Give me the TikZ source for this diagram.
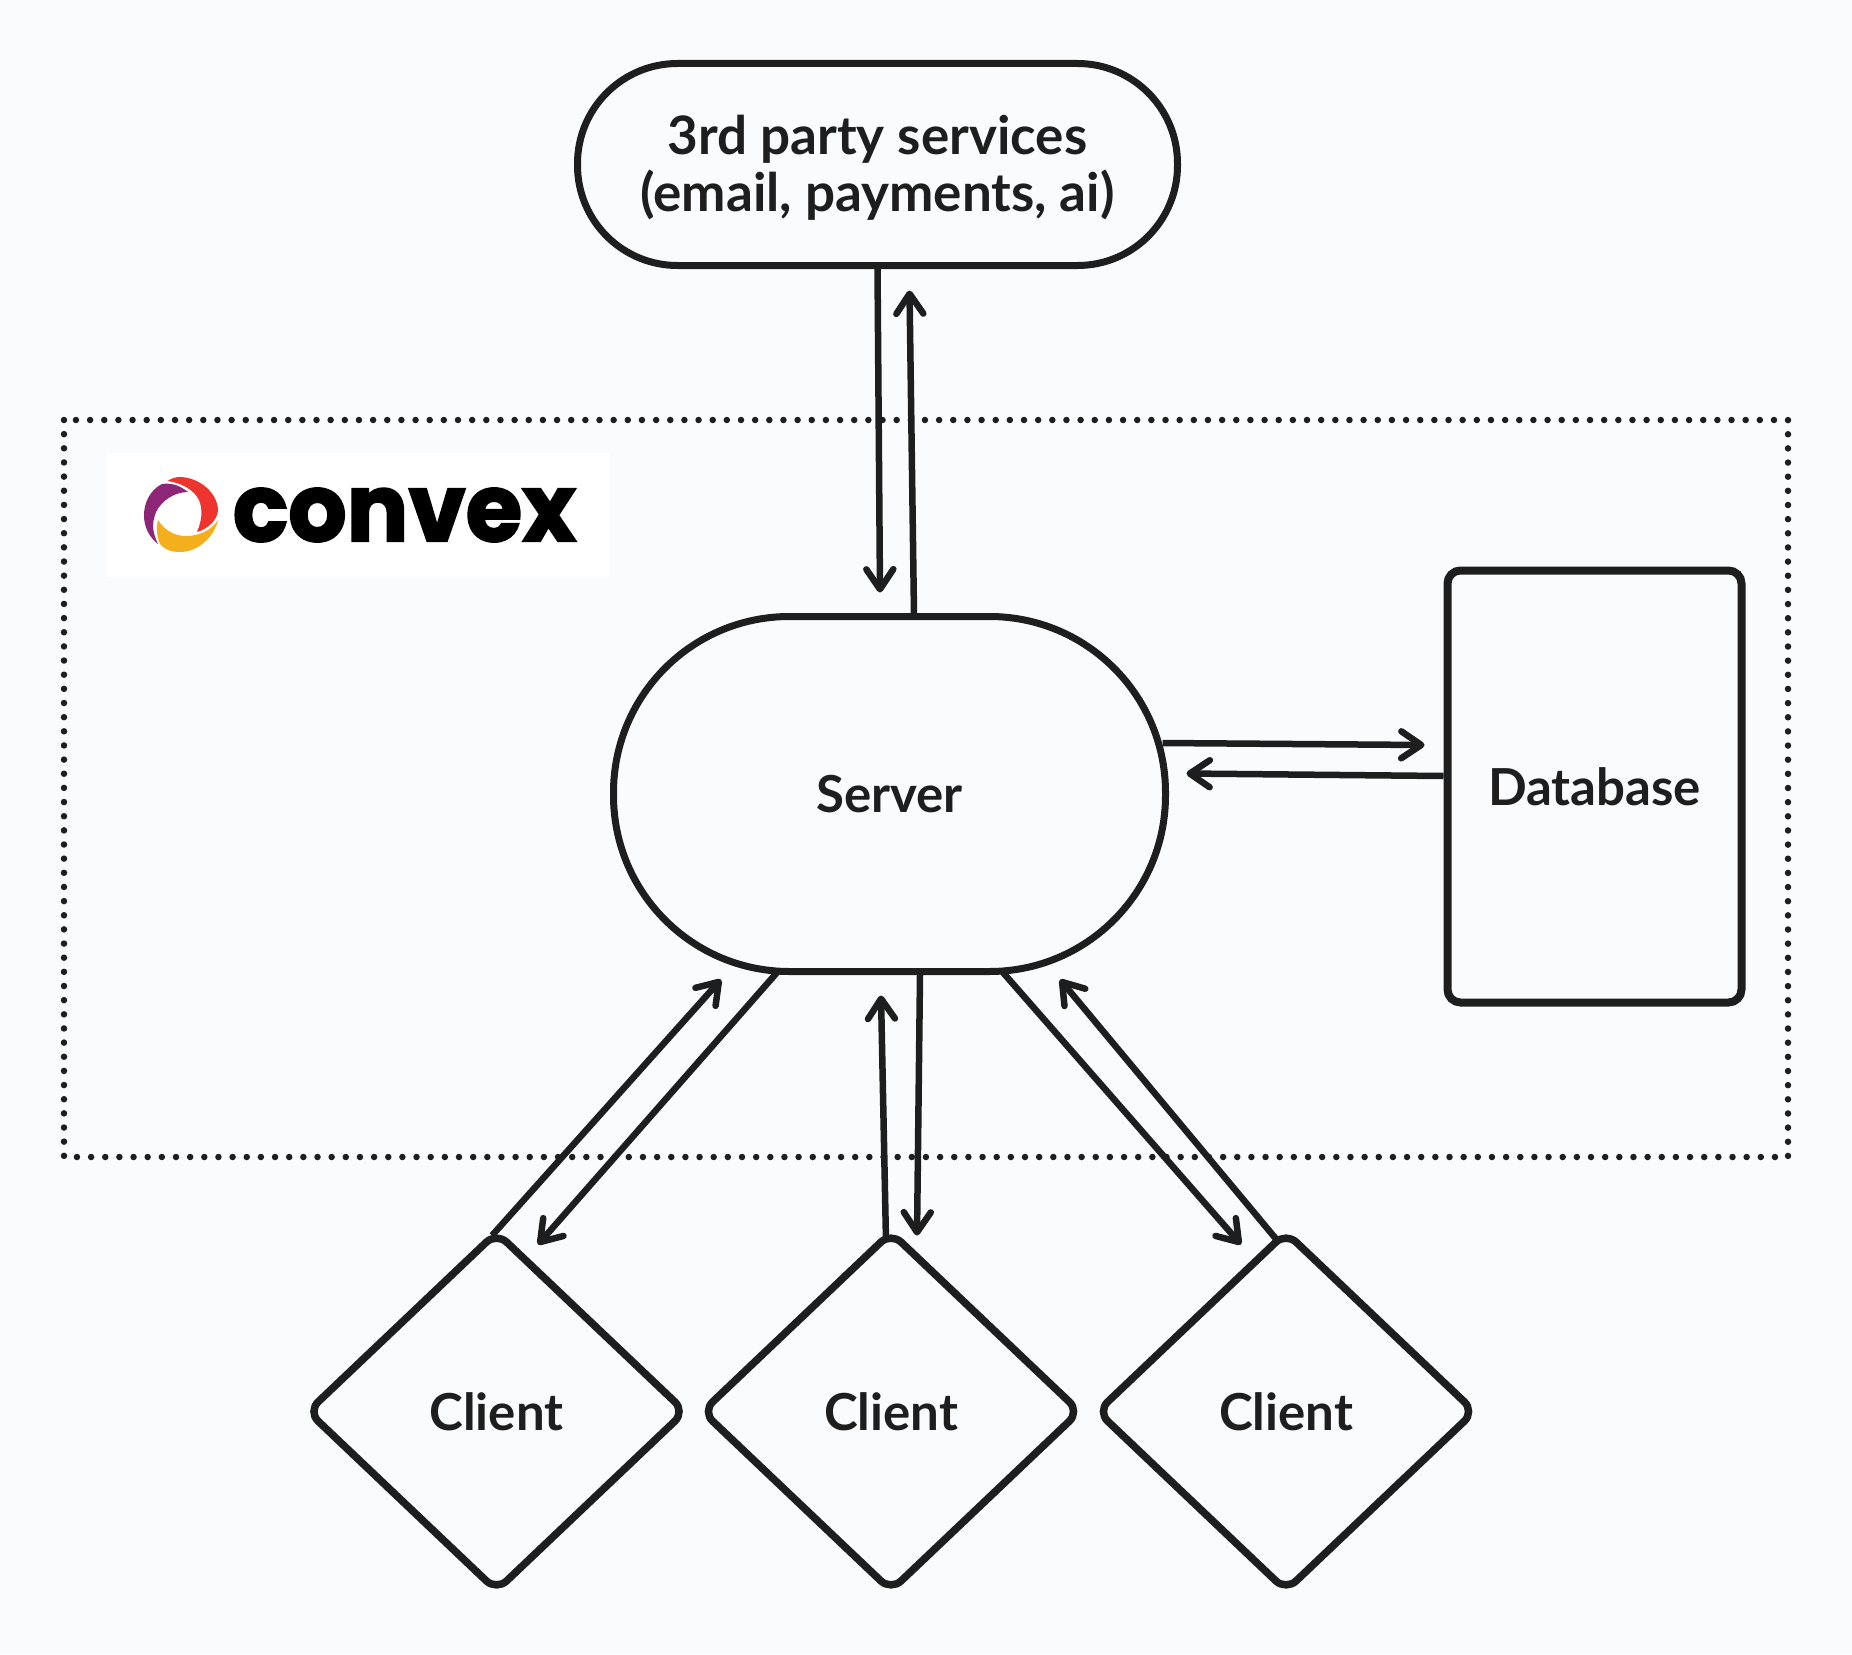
\documentclass[tikz,border=0pt]{standalone}
\usepackage{fontspec}
\usetikzlibrary{arrows.meta,shapes.geometric}
\setmainfont{Lato}
\newfontfamily\logofont[FakeBold=2.2]{Poppins}
\definecolor{ink}{HTML}{1E1E1E}
\definecolor{paper}{HTML}{F9FBFD}
\definecolor{cvpurple}{HTML}{8D2676}
\definecolor{cvred}{HTML}{EE342F}
\definecolor{cvyellow}{HTML}{F3B01C}
\tikzset{
  shapeline/.style={draw=ink,line width=7pt,text=ink,inner sep=0pt,outer sep=0pt,align=center,font=\fontsize{51}{57}\selectfont\bfseries},
  pillbox/.style={shapeline,rectangle,rounded corners=#1},
  clientbox/.style={shapeline,diamond,minimum width=377pt,minimum height=358pt,aspect=1.053,rounded corners=14pt,line width=7.5pt},
  flow/.style={draw=ink,line width=6.5pt,-{Straight Barb[length=20pt,width=27pt,line width=6.5pt,round]}},
}
\begin{document}
\begin{tikzpicture}[x=1pt,y=-1pt]
\fill[paper] (0,0) rectangle (1852,1654);
\useasboundingbox (0,0) rectangle (1852,1654);
% dotted frame
\draw[ink,line width=6.5pt,line cap=round,dash pattern=on 0pt off 14.15pt] (64,420) rectangle (1788,1157);
% logo
\fill[white] (106.5,453) rectangle (609,577);
\fill[cvpurple] (188,492) .. controls (178,484) and (170,483) .. (162,484) .. controls (150,490) and (144,503) .. (144,515) .. controls (144,527) and (149,537) .. (158,544) .. controls (153,533) and (151,525) .. (156,512) .. controls (162,500) and (175,492) .. (188,492) -- cycle;
\fill[cvred] (167.5,481) .. controls (172,478) and (176,477) .. (181,477) .. controls (200,478) and (218,493) .. (218,511) .. controls (217,520) and (208,529) .. (197,532) .. controls (202,520) and (203,510) .. (199,500) .. controls (194,490) and (182,483) .. (167.5,481) -- cycle;
\fill[cvyellow] (218,520) .. controls (214,538) and (197,552) .. (180,552) .. controls (170,552) and (164,549) .. (160,544) .. controls (157,537) and (156,528) .. (158,520) .. controls (165,531) and (175,536) .. (186,536) .. controls (198,536) and (211,531) .. (218,520) -- cycle;
\node[inner sep=0pt,outer sep=0pt,text=black] (logo) at (404.5,515) {\resizebox{343pt}{53pt}{\logofont\bfseries convex}};
% nodes
\node[pillbox=100pt,minimum width=600pt,minimum height=202pt,font=\fontsize{53}{57}\selectfont\bfseries] (top) at (877.5,164.5) {\rule{0pt}{46pt}3rd party services\\(email, payments, ai)};
\node[pillbox=176pt,minimum width=552pt,minimum height=355pt] (server) at (889.5,794) {Server};
\node[pillbox=13pt,line width=8pt,minimum width=294pt,minimum height=432pt] (db) at (1594.5,786.5) {Database};
\node[clientbox] (c1) at (496.5,1411.5) {Client};
\node[clientbox] (c2) at (891,1411.5) {Client};
\node[clientbox] (c3) at (1286,1411.5) {Client};
% connectors
\draw[flow] ([shift={(0,3)}]top.south) -- ([shift={(-9.5,-24)}]server.north);
\draw[flow] ([shift={(24.5,-2)}]server.north) -- ([shift={(32,25)}]top.south);
\draw[flow] ([shift={(-3,-51)}]server.east) -- ([shift={(-23,-41.5)}]db.west);
\draw[flow] ([shift={(-4,-10.5)}]db.west) -- ([shift={(21,-20.5)}]server.east);
\draw[flow] ([shift={(-4.5,3)}]c1.north) -- ([shift={(-168.5,8)}]server.south);
\draw[flow] ([shift={(-112.5,1)}]server.south) -- ([shift={(41.5,12)}]c1.north);
\draw[flow] ([shift={(-5,9)}]c2.north) -- ([shift={(-8.5,24)}]server.south);
\draw[flow] ([shift={(30.5,3)}]server.south) -- ([shift={(26,3)}]c2.north);
\draw[flow] ([shift={(113.5,1)}]server.south) -- ([shift={(-45,12)}]c3.north);
\draw[flow] ([shift={(-7,10)}]c3.north) -- ([shift={(170.5,8)}]server.south);
\end{tikzpicture}
\end{document}
